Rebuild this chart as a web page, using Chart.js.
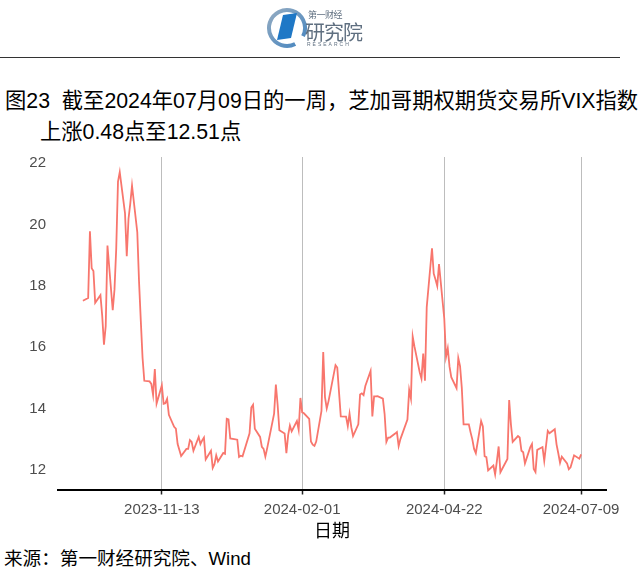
<!DOCTYPE html>
<html>
<head>
<meta charset="utf-8">
<script src="https://cdn.jsdelivr.net/npm/chart.js@4.4.1/dist/chart.umd.min.js"></script>
<style>
  body { margin: 0; width: 640px; height: 574px; position: relative; background: #fff; overflow: hidden;
         font-family: "Liberation Sans", "Noto Sans CJK SC", sans-serif; }
  .abs { position: absolute; }
  #logoMark { left: 266px; top: 4px; }
  .logoTxt { color: #5f6f80; white-space: nowrap; }
  #rule { left: 0; top: 57px; width: 620px; height: 1px; background: #333; }
  .title { left: 5px; font-size: 21.3px; color: #000; white-space: nowrap; }
  #chartBox { left: 0; top: 145px; width: 640px; height: 398px; }
  #source { left: 4px; top: 543px; font-size: 18.6px; color: #000; white-space: nowrap; }
</style>
</head>
<body>
<canvas id="logoMark" class="abs" width="44" height="48"></canvas>
<div class="abs logoTxt" style="left:308px;top:8px;font-size:9px;letter-spacing:-0.5px;">第一财经</div>
<div class="abs logoTxt" style="left:305px;top:17px;font-size:20px;letter-spacing:-1px;">研究院</div>
<div class="abs logoTxt" style="left:307px;top:41px;font-size:5px;letter-spacing:2px;">RESEARCH</div>
<div id="rule" class="abs"></div>
<div class="abs title" style="top:83px;">图23&nbsp;&nbsp;截至2024年07月09日的一周，芝加哥期权期货交易所VIX指数</div>
<div class="abs title" style="top:114px;left:40px;">上涨0.48点至12.51点</div>
<div id="chartBox" class="abs"><canvas id="myChart"></canvas></div>
<div id="source" class="abs">来源：第一财经研究院、Wind</div>
<script>
const dates = [
  "2023-09-29",
  "2023-10-02","2023-10-03","2023-10-04","2023-10-05","2023-10-06","2023-10-09","2023-10-10","2023-10-11","2023-10-12","2023-10-13",
  "2023-10-16","2023-10-17","2023-10-18","2023-10-19","2023-10-20","2023-10-23","2023-10-24","2023-10-25","2023-10-26","2023-10-27",
  "2023-10-30","2023-10-31",
  "2023-11-01","2023-11-02","2023-11-03","2023-11-06","2023-11-07","2023-11-08","2023-11-09","2023-11-10","2023-11-13","2023-11-14",
  "2023-11-15","2023-11-16","2023-11-17","2023-11-20","2023-11-21","2023-11-22","2023-11-24","2023-11-27","2023-11-28","2023-11-29",
  "2023-11-30",
  "2023-12-01","2023-12-04","2023-12-05","2023-12-06","2023-12-07","2023-12-08","2023-12-11","2023-12-12","2023-12-13","2023-12-14",
  "2023-12-15","2023-12-18","2023-12-19","2023-12-20","2023-12-21","2023-12-22","2023-12-26","2023-12-27","2023-12-28","2023-12-29",
  "2024-01-02","2024-01-03","2024-01-04","2024-01-05","2024-01-08","2024-01-09","2024-01-10","2024-01-11","2024-01-12","2024-01-16",
  "2024-01-17","2024-01-18","2024-01-19","2024-01-22","2024-01-23","2024-01-24","2024-01-25","2024-01-26","2024-01-29","2024-01-30",
  "2024-01-31",
  "2024-02-01","2024-02-02","2024-02-05","2024-02-06","2024-02-07","2024-02-08","2024-02-09","2024-02-12","2024-02-13","2024-02-14",
  "2024-02-15","2024-02-16","2024-02-20","2024-02-21","2024-02-22","2024-02-23","2024-02-26","2024-02-27","2024-02-28","2024-02-29",
  "2024-03-01","2024-03-04","2024-03-05","2024-03-06","2024-03-07","2024-03-08","2024-03-11","2024-03-12","2024-03-13","2024-03-14",
  "2024-03-15","2024-03-18","2024-03-19","2024-03-20","2024-03-21","2024-03-22","2024-03-25","2024-03-26","2024-03-27","2024-03-28",
  "2024-04-01","2024-04-02","2024-04-03","2024-04-04","2024-04-05","2024-04-08","2024-04-09","2024-04-10","2024-04-11","2024-04-12",
  "2024-04-15","2024-04-16","2024-04-17","2024-04-18","2024-04-19","2024-04-22","2024-04-23","2024-04-24","2024-04-25","2024-04-26",
  "2024-04-29","2024-04-30",
  "2024-05-01","2024-05-02","2024-05-03","2024-05-06","2024-05-07","2024-05-08","2024-05-09","2024-05-10","2024-05-13","2024-05-14",
  "2024-05-15","2024-05-16","2024-05-17","2024-05-20","2024-05-21","2024-05-22","2024-05-23","2024-05-24","2024-05-28","2024-05-29",
  "2024-05-30","2024-05-31",
  "2024-06-03","2024-06-04","2024-06-05","2024-06-06","2024-06-07","2024-06-10","2024-06-11","2024-06-12","2024-06-13","2024-06-14",
  "2024-06-17","2024-06-18","2024-06-20","2024-06-21","2024-06-24","2024-06-25","2024-06-26","2024-06-27","2024-06-28",
  "2024-07-01","2024-07-02","2024-07-03","2024-07-05","2024-07-08","2024-07-09"
];

const vix = [
  17.52,
  17.61,19.78,18.58,18.49,17.45,17.70,17.03,16.09,16.69,19.32,
  17.21,17.88,19.22,21.40,21.71,20.37,18.97,20.19,20.68,21.27,
  19.75,18.14,
  16.87,15.66,14.91,14.89,14.81,14.45,15.29,14.17,14.76,14.16,
  14.18,14.32,13.80,13.41,13.35,12.85,12.46,12.69,12.69,12.98,
  12.92,
  12.63,13.08,12.85,12.97,13.06,12.35,12.63,12.07,12.19,12.48,
  12.28,12.56,12.53,13.67,13.65,13.03,12.99,12.43,12.47,12.45,
  13.20,14.04,14.13,13.35,13.08,12.76,12.69,12.44,12.70,13.84,
  14.79,14.13,13.30,13.19,12.55,13.14,13.45,13.26,13.60,13.31,
  14.35,
  13.88,13.85,13.67,12.93,12.83,12.79,12.93,13.93,15.85,14.38,
  14.01,14.24,15.42,15.34,14.54,13.75,13.74,13.43,13.84,13.40,
  13.11,13.49,14.46,14.50,14.44,14.74,15.23,13.75,14.40,14.40,
  14.41,14.33,13.82,12.92,13.06,13.06,13.19,13.24,12.78,13.01,
  13.65,14.61,14.33,16.35,16.03,15.19,14.98,15.80,14.91,17.31,
  19.23,18.40,18.21,18.00,18.71,16.94,15.69,15.97,15.37,15.03,
  14.67,15.65,
  15.39,14.68,13.49,13.49,13.23,13.00,12.69,12.55,13.60,13.42,
  12.45,12.42,11.99,12.15,11.86,12.29,12.77,11.93,12.36,14.28,
  13.49,12.92,
  13.11,13.06,12.63,12.58,12.22,12.74,12.85,12.04,11.94,12.66,
  12.75,12.30,13.28,13.20,13.33,12.84,12.55,12.24,12.44,
  12.22,12.03,12.09,12.48,12.37,12.51
];

const xTickDates = ["2023-11-13", "2024-02-01", "2024-04-22", "2024-07-09"];
const yTicks = [12, 14, 16, 18, 20, 22];

// logo mark
(function () {
  const g = document.getElementById("logoMark").getContext("2d");
  const grad = g.createLinearGradient(0, 0, 44, 48);
  grad.addColorStop(0, "#9db0c2");
  grad.addColorStop(1, "#3a7fbf");
  g.strokeStyle = grad;
  g.lineWidth = 4;
  g.beginPath();
  g.arc(21, 24, 18, 0.35 * Math.PI, 2.15 * Math.PI);
  g.stroke();
  g.fillStyle = "#1f78c6";
  g.beginPath();
  g.moveTo(11, 36);
  g.lineTo(17, 11);
  g.lineTo(31, 9);
  g.lineTo(25, 34);
  g.closePath();
  g.fill();
})();

const DAY = 86400000;
function toDay(s) {
  const p = s.split("-");
  return Date.UTC(+p[0], +p[1] - 1, +p[2]) / DAY;
}
function fromDay(v) {
  return new Date(Math.round(v) * DAY).toISOString().slice(0, 10);
}

const points = dates.map((d, i) => ({ x: toDay(d), y: vix[i] }));
const xFirst = toDay(dates[0]);
const xLast = toDay(dates[dates.length - 1]);
const xPad = (xLast - xFirst) * 0.05;
const yLo = Math.min(...vix), yHi = Math.max(...vix);
const yPad = (yHi - yLo) * 0.05;

const font = "'Liberation Sans', 'Noto Sans CJK SC', sans-serif";

const myChart = new Chart(document.getElementById("myChart"), {
  type: "line",
  data: {
    datasets: [
      {
        data: points,
        borderColor: "#F8766D",
        borderWidth: 1.8,
        pointRadius: 0,
        tension: 0,
      },
    ],
  },
  options: {
    responsive: true,
    maintainAspectRatio: false,
    animation: false,
    layout: { padding: { top: 12, right: 34, left: 0, bottom: 0 } },
    plugins: {
      legend: { display: false },
      tooltip: { enabled: false },
    },
    scales: {
      x: {
        type: "linear",
        min: xFirst - xPad,
        max: xLast + xPad,
        afterBuildTicks: (scale) => {
          scale.ticks = xTickDates.map((d) => ({ value: toDay(d) }));
        },
        afterFit: (scale) => {
          scale.height = 53.5;
          scale.paddingLeft = 0;
          scale.paddingRight = 0;
        },
        ticks: {
          callback: (v) => fromDay(v),
          color: "#4d4d4d",
          font: { family: font, size: 15 },
          padding: 6,
          maxRotation: 0,
          autoSkip: false,
        },
        grid: {
          color: "#bdbdbd",
          lineWidth: 1,
          drawTicks: true,
          tickLength: 5,
          tickColor: "#222",
          tickWidth: 1.5,
        },
        border: { display: true, color: "#000", width: 2 },
        title: {
          display: true,
          text: "日期",
          color: "#000",
          font: { family: font, size: 18 },
          padding: { top: 0, bottom: 0 },
        },
      },
      y: {
        min: yLo - yPad,
        max: yHi + yPad,
        afterBuildTicks: (scale) => {
          scale.ticks = yTicks.map((v) => ({ value: v }));
        },
        afterFit: (scale) => {
          scale.width = 58;
          scale.paddingTop = 0;
          scale.paddingBottom = 0;
        },
        ticks: {
          color: "#4d4d4d",
          font: { family: font, size: 15 },
          padding: 12,
        },
        grid: { display: false, drawTicks: false },
        border: { display: false },
      },
    },
  },
});
</script>
</body>
</html>
